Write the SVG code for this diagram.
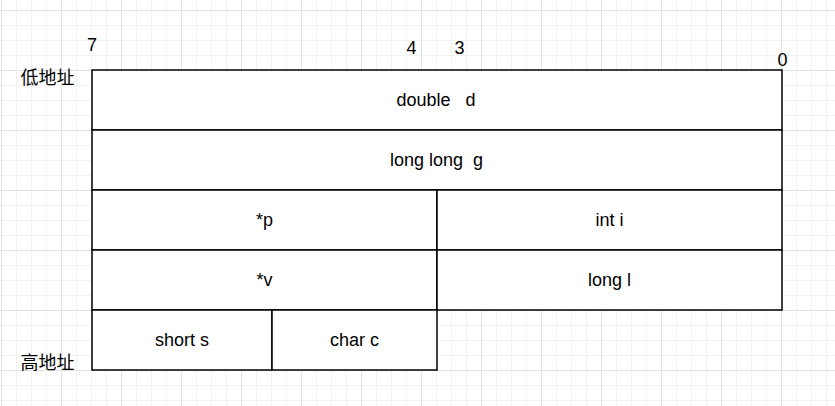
<svg xmlns="http://www.w3.org/2000/svg" width="835" height="406" viewBox="0 0 835 406">
  <style>
    .cell { fill: #ffffff; stroke: #000000; stroke-width: 1.5; }
    .t { font-family: "Liberation Sans", Arial, "Noto Sans CJK SC", sans-serif; font-size: 18px; fill: #000000; text-anchor: middle; white-space: pre; }
  </style>
  <defs>
    <pattern id="minor" patternUnits="userSpaceOnUse" x="1" y="10" width="15" height="15">
      <path d="M0 0.5 H15 M0.5 0 V15" stroke="#f2f2f2" stroke-width="1" fill="none"/>
    </pattern>
    <pattern id="major" patternUnits="userSpaceOnUse" x="1" y="10" width="60" height="60">
      <path d="M0 0.5 H60 M0.5 0 V60" stroke="#e2e2e2" stroke-width="1" fill="none"/>
    </pattern>
  </defs>
  <rect width="835" height="406" fill="#ffffff"/>
  <rect width="835" height="406" fill="url(#minor)"/>
  <rect width="835" height="406" fill="url(#major)"/>

  <g id="labels">
    <text class="t" x="92" y="51">7</text>
    <text class="t" x="411.5" y="54">4</text>
    <text class="t" x="459.5" y="54">3</text>
    <text class="t" x="782.5" y="66">0</text>
    <text class="t" x="47.5" y="84">低地址</text>
    <text class="t" x="47.5" y="369">高地址</text>
  </g>

  <g id="node-double">
    <rect class="cell" x="92" y="70" width="690" height="60"/>
    <text class="t" x="436" y="106">double   d</text>
  </g>
  <g id="node-longlong">
    <rect class="cell" x="92" y="130" width="690" height="60"/>
    <text class="t" x="436.5" y="166">long long  g</text>
  </g>
  <g id="node-p">
    <rect class="cell" x="92" y="190" width="345" height="60"/>
    <text class="t" x="264.5" y="226">*p</text>
  </g>
  <g id="node-int">
    <rect class="cell" x="437" y="190" width="345" height="60"/>
    <text class="t" x="609.5" y="226">int i</text>
  </g>
  <g id="node-v">
    <rect class="cell" x="92" y="250" width="345" height="60"/>
    <text class="t" x="264.5" y="286">*v</text>
  </g>
  <g id="node-long">
    <rect class="cell" x="437" y="250" width="345" height="60"/>
    <text class="t" x="609.5" y="286">long l</text>
  </g>
  <g id="node-short">
    <rect class="cell" x="92" y="310" width="180" height="60"/>
    <text class="t" x="182" y="346">short s</text>
  </g>
  <g id="node-char">
    <rect class="cell" x="272" y="310" width="165" height="60"/>
    <text class="t" x="354.5" y="346">char c</text>
  </g>
</svg>
